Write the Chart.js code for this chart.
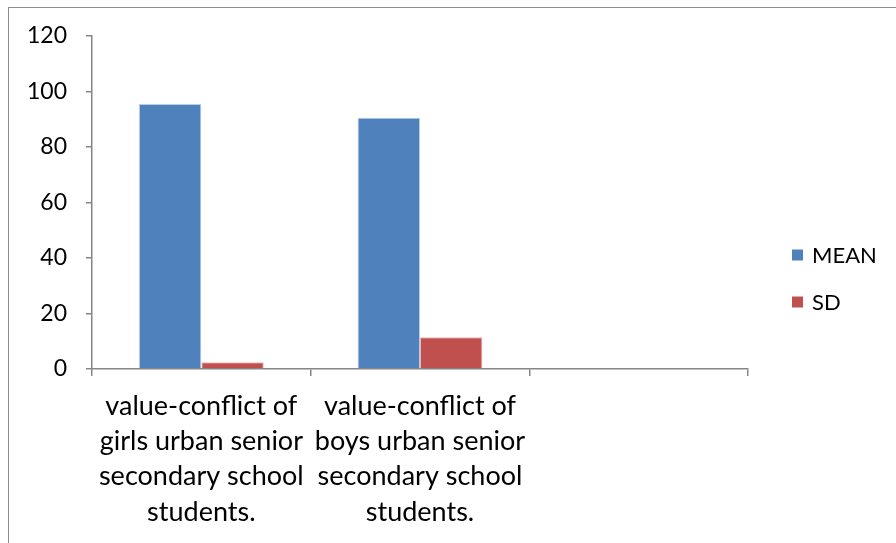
<!DOCTYPE html>
<html>
<head>
<meta charset="utf-8">
<script src="https://cdn.jsdelivr.net/npm/chart.js@4"></script>
<style>
  html, body { margin: 0; padding: 0; background: #fff; }
  #wrap { position: relative; width: 896px; height: 543px; }
  #frame { position: absolute; left: 8px; top: 7px; width: 900px; height: 560px;
           border-left: 1px solid #8c8c8c; border-top: 1px solid #8c8c8c; pointer-events: none; }
</style>
</head>
<body>
<div id="wrap">
  <canvas id="chart" width="896" height="543"></canvas>
  <div id="frame"></div>
</div>
<script>
const categories = [
    ['value-conflict of', 'girls urban senior', 'secondary school', 'students.'],
    ['value-conflict of', 'boys urban senior', 'secondary school', 'students.'],
    ''
];
const meanValues = [95.5, 90.5, null];
const sdValues = [2.4, 11.4, null];
const yTicks = [0, 20, 40, 60, 80, 100, 120];

const fontFamily = 'Lato, "Open Sans", sans-serif';
const axisColor = '#868686';

// legend drawn at the right like the original
const sideLegend = {
    id: 'sideLegend',
    afterDraw(chart) {
        const ctx = chart.ctx;
        const rows = [255, 302];
        ctx.save();
        ctx.font = '22px ' + fontFamily;
        ctx.textBaseline = 'middle';
        chart.data.datasets.forEach((ds, i) => {
            ctx.fillStyle = ds.backgroundColor;
            ctx.fillRect(792, rows[i] - 5.5, 11, 11);
            ctx.fillStyle = '#000';
            ctx.fillText(ds.label, 812, rows[i] + 1);
        });
        ctx.restore();
    }
};

const chart = document.querySelector('#chart').getContext('2d');

new Chart(chart, {
    type: 'bar',
    data: {
        labels: categories,
        datasets: [
            {
                label: 'MEAN',
                data: meanValues,
                backgroundColor: '#4F81BD',
                borderColor: '#b9cde5',
                borderWidth: 1
            },
            {
                label: 'SD',
                data: sdValues,
                backgroundColor: '#C0504D',
                borderColor: '#e6b9b8',
                borderWidth: 1
            }
        ]
    },
    options: {
        responsive: false,
        animation: false,
        devicePixelRatio: 1,
        layout: { padding: { left: 0, right: 148, top: 36, bottom: 0 } },
        datasets: { bar: { categoryPercentage: 0.571, barPercentage: 1 } },
        plugins: {
            legend: { display: false },
            tooltip: { enabled: false }
        },
        scales: {
            x: {
                grid: { display: true, drawOnChartArea: false, drawTicks: true, tickLength: 7,
                        offset: true, color: axisColor, lineWidth: 1.5 },
                border: { display: true, color: axisColor, width: 1.5 },
                ticks: {
                    color: '#000',
                    padding: 13,
                    maxRotation: 0,
                    autoSkip: false,
                    font: { family: fontFamily, size: 27, lineHeight: 1.3 }
                },
                afterFit(scale) { scale.height = 174; }
            },
            y: {
                min: 0,
                max: 120,
                afterBuildTicks(scale) { scale.ticks = yTicks.map(v => ({ value: v })); },
                grid: { display: true, drawOnChartArea: false, drawTicks: true, tickLength: 6,
                        color: axisColor, lineWidth: 1.5 },
                border: { display: true, color: axisColor, width: 1.5 },
                ticks: {
                    color: '#000',
                    padding: 19,
                    font: { family: fontFamily, size: 23 }
                },
                afterFit(scale) { scale.width = 92; }
            }
        }
    },
    plugins: [sideLegend]
});
</script>
</body>
</html>
